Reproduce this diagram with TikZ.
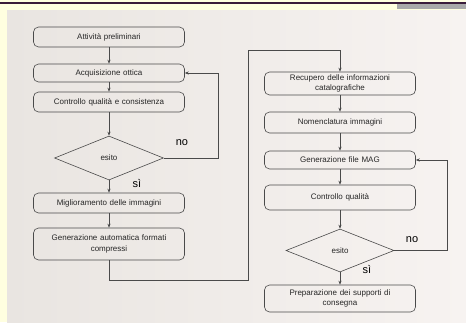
\documentclass[tikz,border=0pt]{standalone}
\usepackage{fontspec}
\setmainfont{Liberation Sans}
\usetikzlibrary{shapes.geometric,arrows.meta}
\definecolor{bgyellow}{HTML}{FFFFE0}
\definecolor{panel}{HTML}{F2EFEB}
\definecolor{panelL}{HTML}{E9E5E1}
\definecolor{panelR}{HTML}{F7F3F1}
\definecolor{topline}{HTML}{3A1C3A}
\definecolor{graytab}{HTML}{A9A9A9}
\definecolor{linegray}{HTML}{4A4A4A}
\tikzset{
  box/.style={draw=linegray, line width=0.6pt, rounded corners=5pt, minimum width=151pt,
    text width=145pt, align=center, inner sep=1pt, font=\fontsize{8}{10.5}\selectfont, text=black!85},
  dec/.style={draw=linegray, line width=0.6pt, diamond, inner sep=0pt,
    font=\fontsize{8}{10}\selectfont, text=black!85},
  arr/.style={draw=linegray, line width=0.6pt, -{Stealth[length=4pt,width=3.2pt]}},
  lbl/.style={font=\fontsize{11}{12}\selectfont, text=black}
}
\begin{document}
\begin{tikzpicture}[x=1pt,y=-1pt]
\useasboundingbox (0,0) rectangle (466,322);
\fill[bgyellow] (0,0) rectangle (466,322);
\shade[left color=panelL, right color=panelR] (7,10) rectangle (466,322);
\fill[topline] (0,2) rectangle (466,3.6);
\fill[graytab] (397,3.6) rectangle (466,9);
% left column
\node[box, minimum height=20pt] (a1) at (109,37) {Attività preliminari};
\node[box, minimum height=18pt] (a2) at (109,73) {Acquisizione ottica};
\node[box, minimum height=20pt] (a3) at (109,102) {Controllo qualità e consistenza};
\node[dec, minimum width=109pt, minimum height=44pt] (d1) at (109,158) {esito};
\node[box, minimum height=20pt] (a4) at (109,203) {Miglioramento delle immagini};
\node[box, minimum height=32pt] (a5) at (109,244) {Generazione automatica formati\\compressi};
% right column
\node[box, minimum height=23pt] (b1) at (340,83.5) {Recupero delle informazioni\\catalografiche};
\node[box, minimum height=21pt] (b2) at (340,122.5) {Nomenclatura immagini};
\node[box, minimum height=18pt] (b3) at (340,160) {Generazione file MAG};
\node[box, minimum height=25pt] (b4) at (340,197.5) {Controllo qualità};
\node[dec, minimum width=108pt, minimum height=43pt] (d2) at (340,250.5) {esito};
\node[box, minimum height=27pt] (b5) at (340,298.5) {Preparazione dei supporti di\\consegna};
% labels
\node[lbl] (n1) at (182,143) {no};
\node[lbl] (s1) at (137,183) {sì};
\node[lbl] (n2) at (412,240) {no};
\node[lbl] (s2) at (367,269) {sì};
% coordinates
\coordinate (f1) at (218,158);
\coordinate (c1) at (248,280);
\coordinate (c2) at (248,50);
\coordinate (f2) at (447,250.5);
% connectors
\draw[arr] (a1) -- (a2);
\draw[arr] (a2) -- (a3);
\draw[arr] (a3) -- (d1);
\draw[arr] (d1) -- (a4);
\draw[arr] (a4) -- (a5);
\draw[arr] (d1.east) -- (f1) |- (a2.east);
\draw[arr] (a5.south) |- (c1) -- (c2) -| (b1.north);
\draw[arr] (b1) -- (b2);
\draw[arr] (b2) -- (b3);
\draw[arr] (b3) -- (b4);
\draw[arr] (b4) -- (d2);
\draw[arr] (d2) -- (b5);
\draw[arr] (d2.east) -- (f2) |- (b3.east);
\end{tikzpicture}
\end{document}
